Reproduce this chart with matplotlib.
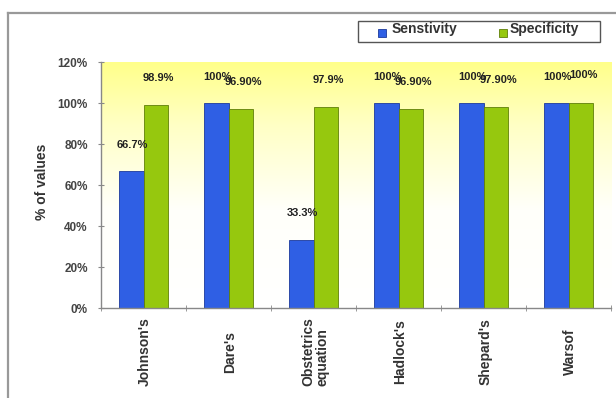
import numpy as np
import matplotlib.pyplot as plt
from matplotlib.lines import Line2D
from matplotlib.patches import Rectangle
from matplotlib.colors import LinearSegmentedColormap
import matplotlib.transforms as mtransforms

plt.rcParams['font.family'] = ['Liberation Sans', 'DejaVu Sans']

methods = ["Johnson's", "Dare's", "Obstetrics\nequation", "Hadlock's", "Shepard's", "Warsof"]
sensitivity = [66.7, 100, 33.3, 100, 100, 100]
specificity = [98.9, 96.9, 97.9, 96.9, 97.9, 100]
sens_labels = ["66.7%", "100%", "33.3%", "100%", "100%", "100%"]
spec_labels = ["98.9%", "96.90%", "97.9%", "96.90%", "97.90%", "100%"]

blue = '#2f5fe4'
green = '#96c80e'
W, H = 616, 398

fig = plt.figure(figsize=(6.16, 3.98), dpi=100)
ax = fig.add_axes([0.164, 0.226, 0.828, 0.618])

x = np.arange(len(methods))
w = 0.29

# pale yellow fading to white towards the bottom
grad = np.linspace(1, 0, 256).reshape(-1, 1)
cmap = LinearSegmentedColormap.from_list(
    'bg', [(0, '#ffffff'), (0.4, '#fffffa'), (0.75, '#ffffc4'), (1, '#ffff8a')])
ax.imshow(grad, extent=[-0.5, len(methods) - 0.5, 0, 120], aspect='auto',
          cmap=cmap, zorder=0, origin='upper')

ax.bar(x - w / 2, sensitivity, w, color=blue, edgecolor='#1c3a9c', linewidth=0.6, zorder=2)
ax.bar(x + w / 2, specificity, w, color=green, edgecolor='#5f7f08', linewidth=0.6, zorder=2)

for i in range(len(methods)):
    ax.annotate(sens_labels[i], (x[i] - w / 2, sensitivity[i]), xytext=(1, 19),
                textcoords='offset points', ha='center', va='center',
                fontsize=8, fontweight='bold', color='#222222', zorder=3)
    ax.annotate(spec_labels[i], (x[i] + w / 2, specificity[i]), xytext=(2, 20),
                textcoords='offset points', ha='center', va='center',
                fontsize=8, fontweight='bold', color='#222222', zorder=3)

ax.set_xlim(-0.5, len(methods) - 0.5)
ax.set_ylim(0, 120)

ax.set_yticks(np.arange(0, 121, 20))
ax.set_yticklabels([f'{v}%' for v in range(0, 121, 20)], fontsize=8.5,
                   fontweight='bold', color='#444444')
shift = mtransforms.ScaledTranslation(0, 7 / 100, fig.dpi_scale_trans)
for lbl in ax.get_yticklabels():
    lbl.set_transform(lbl.get_transform() + shift)
ax.tick_params(axis='y', direction='inout', length=5, color='#888888', pad=7)

# category names sit centred in the band under the axis
ax.set_xticks(x)
ax.set_xticklabels([])
ax.tick_params(axis='x', which='major', length=0)
ax.set_xticks(np.arange(-0.5, len(methods)), minor=True)
ax.tick_params(axis='x', which='minor', direction='inout', length=5, color='#888888')
trans = mtransforms.blended_transform_factory(ax.transData, fig.transFigure)
for i, name in enumerate(methods):
    ax.text(x[i] + 0.02, 1 - 352 / H, name, transform=trans, rotation=90,
            ha='center', va='center', fontsize=10, fontweight='bold',
            color='#333333', linespacing=1.0, multialignment='left')

for side in ['top', 'right']:
    ax.spines[side].set_visible(False)
for side in ['left', 'bottom']:
    ax.spines[side].set_color('#888888')
    ax.spines[side].set_linewidth(1.0)

fig.text(42 / W, 1 - 182 / H, '% of values', rotation=90, ha='center', va='center',
         fontsize=10, fontweight='bold', color='#333333')

# legend box
fig.add_artist(Rectangle((358 / W, 1 - 42 / H), 242 / W, 21 / H, transform=fig.transFigure,
                         facecolor='white', edgecolor='#555555', linewidth=1.0))
for (lx, tx, col, ec, name) in [(378, 392, blue, '#1c3a9c', 'Senstivity'),
                                (499, 510, green, '#5f7f08', 'Specificity')]:
    fig.add_artist(Rectangle((lx / W, 1 - 37 / H), 8 / W, 8 / H, transform=fig.transFigure,
                             facecolor=col, edgecolor=ec, linewidth=0.6))
    fig.text(tx / W, 1 - 29 / H, name, ha='left', va='center', fontsize=10,
             fontweight='bold', color='#333333')

# outer chart border
fig.add_artist(Line2D([8 / W, 8 / W], [0, 1 - 13 / H], color='#999999', linewidth=1.6))
fig.add_artist(Line2D([8 / W, 1], [1 - 13 / H, 1 - 13 / H], color='#999999', linewidth=1.6))

fig.savefig('out.png', dpi=100)
